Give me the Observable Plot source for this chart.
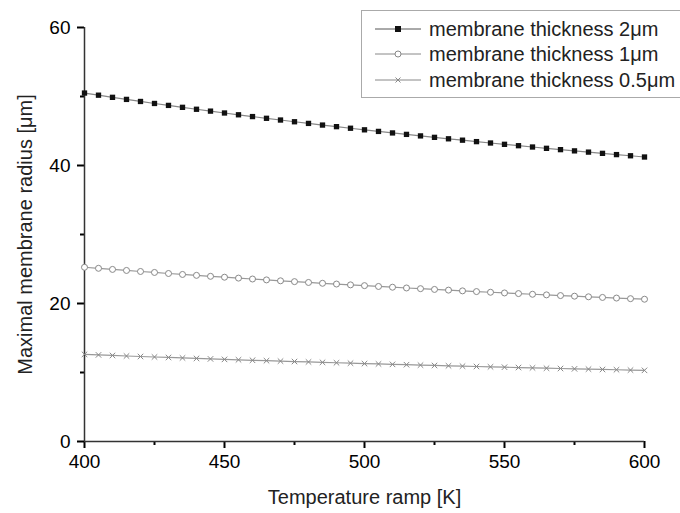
<!DOCTYPE html>
<html>
<head>
<meta charset="utf-8">
<script src="https://cdn.jsdelivr.net/npm/d3@7"></script>
<script src="https://cdn.jsdelivr.net/npm/@observablehq/plot@0.6"></script>
<style>
  html, body { margin: 0; padding: 0; background: #fff; }
  #wrap { position: relative; width: 680px; height: 513px; font-family: "Liberation Sans", Arial, sans-serif; }
  #legend { position: absolute; left: 361px; top: 10px; width: 320px; height: 88px; border: 1.5px solid #aaa; border-right: none; box-sizing: border-box; background: #fff; }
  .row { position: absolute; left: 0; height: 24px; display: flex; align-items: center; font-size: 20px; color: #222; white-space: nowrap; }
  .row span { margin-left: 8px; }
</style>
</head>
<body>
<div id="wrap"></div>
<script>
const temperature = [400,405,410,415,420,425,430,435,440,445,450,455,460,465,470,475,480,485,490,495,500,505,510,515,520,525,530,535,540,545,550,555,560,565,570,575,580,585,590,595,600];
const thick2 = [50.5,50.19,49.88,49.58,49.28,48.99,48.71,48.43,48.15,47.88,47.61,47.35,47.09,46.84,46.59,46.34,46.10,45.86,45.63,45.40,45.17,44.94,44.72,44.51,44.29,44.08,43.87,43.67,43.46,43.26,43.07,42.87,42.68,42.49,42.30,42.12,41.94,41.76,41.58,41.41,41.23];
const thick1 = [25.25,25.10,24.94,24.79,24.64,24.50,24.35,24.21,24.08,23.94,23.81,23.68,23.55,23.42,23.29,23.17,23.05,22.93,22.82,22.70,22.59,22.47,22.36,22.25,22.15,22.04,21.94,21.83,21.73,21.63,21.53,21.44,21.34,21.25,21.15,21.06,20.97,20.88,20.79,20.70,20.62];
const thick05 = [12.63,12.55,12.47,12.39,12.32,12.25,12.18,12.11,12.04,11.97,11.90,11.84,11.77,11.71,11.65,11.59,11.53,11.47,11.41,11.35,11.29,11.24,11.18,11.13,11.07,11.02,10.97,10.92,10.87,10.82,10.77,10.72,10.67,10.62,10.58,10.53,10.49,10.44,10.40,10.35,10.31];
const seriesNames = ["membrane thickness 2\u03BCm", "membrane thickness 1\u03BCm", "membrane thickness 0.5\u03BCm"];
const xTicks = [400, 450, 500, 550, 600];
const xMinor = [425, 475, 525, 575];
const yTicks = [0, 20, 40, 60];
const yMinor = [10, 30, 50];
const xLabel = "Temperature ramp [K]";
const yLabel = "Maximal membrane radius [\u03BCm]";

const d2 = temperature.map((t, i) => ({t, r: thick2[i]}));
const d1 = temperature.map((t, i) => ({t, r: thick1[i]}));
const d05 = temperature.map((t, i) => ({t, r: thick05[i]}));

const chart = Plot.plot({
  width: 680,
  height: 513,
  marginLeft: 84,
  marginRight: 36,
  marginTop: 27,
  marginBottom: 72,
  style: { fontFamily: "Liberation Sans, Arial, sans-serif", fontSize: "19px" },
  x: { domain: [400, 600] },
  y: { domain: [0, 60] },
  marks: [
    Plot.axisX({ ticks: xTicks, tickSize: 7, tickPadding: 6, label: null, stroke: "black", strokeWidth: 2, tickFormat: d => String(d) }),
    Plot.axisX({ ticks: xMinor, tickSize: 4, tickFormat: () => "", label: null, stroke: "black", strokeWidth: 2 }),
    Plot.axisY({ ticks: yTicks, tickSize: 7, tickPadding: 7, label: null, stroke: "black", strokeWidth: 2 }),
    Plot.axisY({ ticks: yMinor, tickSize: 4, tickFormat: () => "", label: null, stroke: "black", strokeWidth: 2 }),
    Plot.ruleY([0], { stroke: "#333", strokeWidth: 1.5 }),
    Plot.ruleX([400], { stroke: "#333", strokeWidth: 1.5 }),
    Plot.text([xLabel], { frameAnchor: "bottom", dy: 62, fontSize: 20, fill: "#222" }),
    Plot.text([yLabel], { frameAnchor: "left", textAnchor: "middle", dx: -59, rotate: -90, fontSize: 20, fill: "#222" }),
    Plot.line(d05, { x: "t", y: "r", stroke: "#999", strokeWidth: 1.2 }),
    Plot.dot(d05, { x: "t", y: "r", symbol: "times", r: 2.6, stroke: "#888", strokeWidth: 1 }),
    Plot.line(d1, { x: "t", y: "r", stroke: "#999", strokeWidth: 1.2 }),
    Plot.dot(d1, { x: "t", y: "r", symbol: "circle", r: 3, stroke: "#888", fill: "#fff", strokeWidth: 1 }),
    Plot.line(d2, { x: "t", y: "r", stroke: "#888", strokeWidth: 1.2 }),
    Plot.dot(d2, { x: "t", y: "r", symbol: "square", r: 3, fill: "#111", stroke: "none" })
  ]
});

const wrap = document.getElementById("wrap");
wrap.appendChild(chart);

// legend
const legend = document.createElement("div");
legend.id = "legend";
const markers = [
  `<line x1="0" y1="12" x2="46" y2="12" stroke="#555" stroke-width="1"/><rect x="20" y="9" width="6" height="6" fill="#111"/>`,
  `<line x1="0" y1="12" x2="46" y2="12" stroke="#888" stroke-width="1"/><circle cx="23" cy="12" r="3" fill="#fff" stroke="#888"/>`,
  `<line x1="0" y1="12" x2="46" y2="12" stroke="#888" stroke-width="1"/><path d="M20.5,9.5L25.5,14.5M25.5,9.5L20.5,14.5" stroke="#888"/>`
];
const rowTops = [6, 31, 57];
seriesNames.forEach((name, i) => {
  const row = document.createElement("div");
  row.className = "row";
  row.style.top = rowTops[i] + "px";
  row.style.left = "13px";
  row.innerHTML = `<svg width="46" height="24" style="display:block">${markers[i]}</svg><span>${name}</span>`;
  legend.appendChild(row);
});
wrap.appendChild(legend);
</script>
</body>
</html>
